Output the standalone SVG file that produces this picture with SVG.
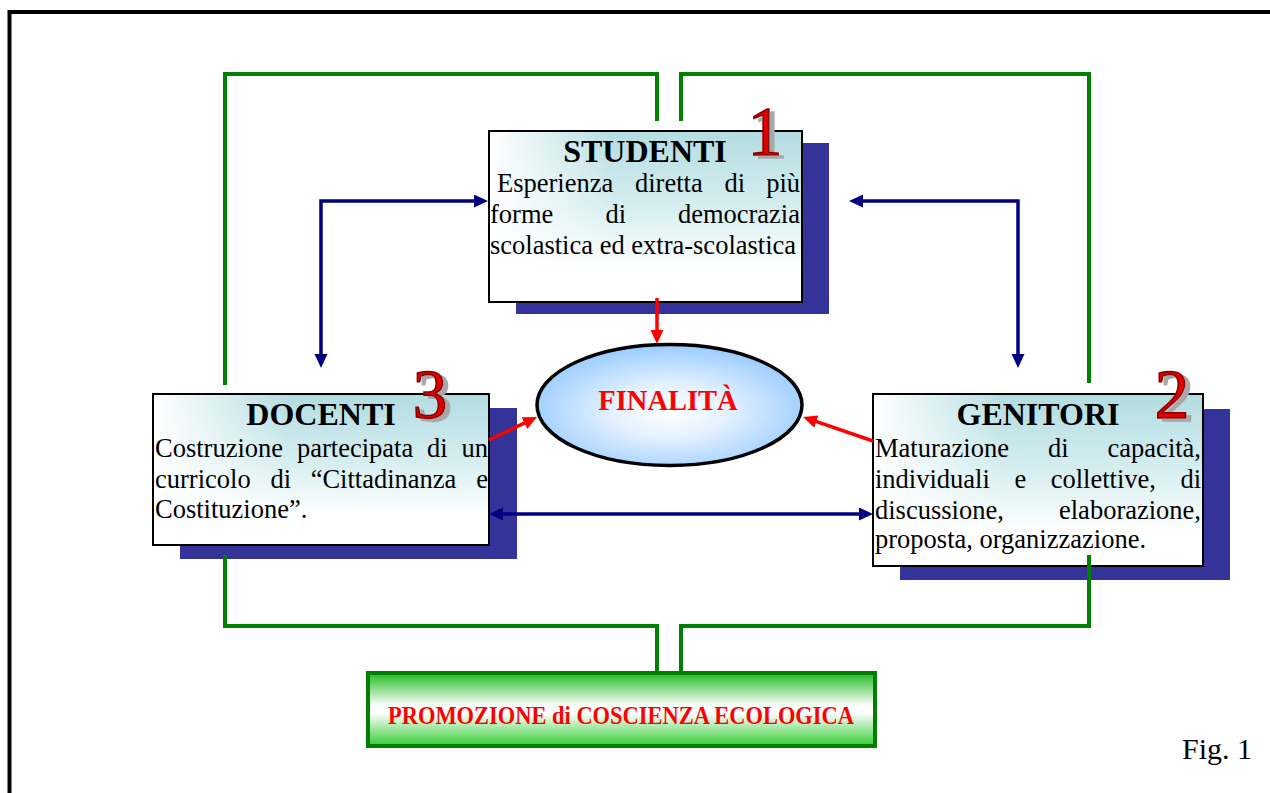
<svg xmlns="http://www.w3.org/2000/svg" width="1270" height="793" viewBox="0 0 1270 793">
<style>
.frame{fill:none;stroke:#000;stroke-width:4}
.shadow{fill:#333399}
.box{stroke:#000;stroke-width:2}
.title{font-family:"Liberation Serif","Times New Roman",serif;font-weight:bold;font-size:32px;fill:#000;text-anchor:middle}
.body{font-family:"Liberation Serif","Times New Roman",serif;font-size:26.5px;fill:#000}
.end{text-anchor:end}
.num{font-family:"Liberation Serif","Times New Roman",serif;font-weight:normal;font-size:69px;text-anchor:middle;fill:#e00000;stroke:#8a0000;stroke-width:1.6;filter:url(#ds)}
.red{font-family:"Liberation Serif","Times New Roman",serif;font-weight:bold;fill:#ff0000;text-anchor:middle}
.green{fill:none;stroke:#008000;stroke-width:4}
.blue{fill:none;stroke:#000080;stroke-width:3.5;marker-start:url(#ab);marker-end:url(#ab)}
.redl{fill:none;stroke:#ff0000;stroke-width:3.5;marker-end:url(#ar)}
</style>
<defs>
<filter id="ds" x="-30%" y="-30%" width="160%" height="160%">
<feOffset in="SourceAlpha" dx="5" dy="3" result="o"/>
<feFlood flood-color="#a8a8a8"/>
<feComposite in2="o" operator="in"/>
<feMerge><feMergeNode/><feMergeNode in="SourceGraphic"/></feMerge>
</filter>
<marker id="ab" markerUnits="userSpaceOnUse" markerWidth="16" markerHeight="14" refX="2" refY="6.5" orient="auto-start-reverse"><path d="M0,0 L14,6.5 L0,13 z" fill="#000080"/></marker>
<marker id="ar" markerUnits="userSpaceOnUse" markerWidth="16" markerHeight="14" refX="2" refY="6.5" orient="auto"><path d="M0,0 L14,6.5 L0,13 z" fill="#ff0000"/></marker>
<linearGradient id="gv" x1="0" y1="0" x2="0" y2="1"><stop offset="0" stop-color="#b3dce1"/><stop offset="0.45" stop-color="#d6eef0"/><stop offset="0.8" stop-color="#ffffff"/></linearGradient>
<linearGradient id="gh" x1="0" y1="0" x2="1" y2="0"><stop offset="0" stop-color="#fff" stop-opacity="1"/><stop offset="0.4" stop-color="#fff" stop-opacity="0"/></linearGradient>
<radialGradient id="ge" cx="0.5" cy="0.55" r="0.55"><stop offset="0" stop-color="#ffffff"/><stop offset="0.4" stop-color="#e4f1ff"/><stop offset="1" stop-color="#99ccff"/></radialGradient>
<linearGradient id="gg" x1="0" y1="0" x2="0" y2="1"><stop offset="0" stop-color="#22bb22"/><stop offset="0.45" stop-color="#ffffff"/><stop offset="0.55" stop-color="#ffffff"/><stop offset="1" stop-color="#33cc33"/></linearGradient>
</defs>
<rect width="1270" height="793" fill="#fff"/>
<path class="frame" d="M9.5,793 V12 H1270"/>

<g id="studenti">
<rect class="shadow" x="516" y="143" width="313" height="171"/>
<rect class="box" x="489" y="131" width="313" height="171" fill="url(#gv)"/>
<rect x="490" y="132" width="311" height="169" fill="url(#gh)"/>
<text class="title" x="645" y="162">STUDENTI</text>
<text class="num" x="765" y="155">1</text>
<text class="body" x="497" y="192">Esperienza</text>
<text class="body" x="635" y="192">diretta</text>
<text class="body" x="724.5" y="192">di</text>
<text class="body end" x="800" y="192">più</text>
<text class="body" x="490" y="223">forme</text>
<text class="body" x="605.5" y="223">di</text>
<text class="body end" x="800" y="223">democrazia</text>
<text class="body" x="490" y="254">scolastica ed extra-scolastica</text>
</g>

<g id="docenti">
<rect class="shadow" x="180" y="408" width="337" height="151"/>
<rect class="box" x="153" y="394" width="336" height="151" fill="url(#gv)"/>
<rect x="154" y="395" width="334" height="149" fill="url(#gh)"/>
<text class="title" x="321" y="425">DOCENTI</text>
<text class="num" x="430" y="418">3</text>
<text class="body" x="155" y="457">Costruzione</text>
<text class="body" x="297" y="457">partecipata</text>
<text class="body" x="427" y="457">di</text>
<text class="body end" x="488" y="457">un</text>
<text class="body" x="155" y="488">curricolo</text>
<text class="body" x="270.5" y="488">di</text>
<text class="body" x="310.7" y="488">“Cittadinanza</text>
<text class="body end" x="488" y="488">e</text>
<text class="body" x="155" y="518">Costituzione”.</text>
</g>

<g id="genitori">
<rect class="shadow" x="900" y="409" width="330" height="171"/>
<rect class="box" x="873" y="394" width="330" height="172" fill="url(#gv)"/>
<rect x="874" y="395" width="328" height="170" fill="url(#gh)"/>
<text class="title" x="1038" y="425">GENITORI</text>
<text class="num" x="1172" y="418">2</text>
<text class="body" x="875" y="457">Maturazione</text>
<text class="body" x="1048" y="457">di</text>
<text class="body end" x="1201" y="457">capacità,</text>
<text class="body" x="875" y="488">individuali</text>
<text class="body" x="1014.4" y="488">e</text>
<text class="body" x="1050.7" y="488">collettive,</text>
<text class="body end" x="1201" y="488">di</text>
<text class="body" x="875" y="519">discussione,</text>
<text class="body end" x="1201" y="519">elaborazione,</text>
<text class="body" x="875" y="548">proposta, organizzazione.</text>
</g>

<g id="finalita">
<ellipse cx="669.5" cy="405" rx="132.5" ry="60.5" fill="url(#ge)" stroke="#000" stroke-width="3.5"/>
<text class="red" x="668" y="410" font-size="28.5">FINALITÀ</text>
</g>

<g id="promozione">
<rect x="368" y="673" width="507" height="73" fill="url(#gg)" stroke="#008000" stroke-width="4"/>
<text class="red" x="621" y="724" font-size="26" textLength="466" lengthAdjust="spacingAndGlyphs">PROMOZIONE di COSCIENZA ECOLOGICA</text>
</g>

<g id="fig">
<text x="1182" y="759" font-family="Liberation Serif, Times New Roman, serif" font-size="30" fill="#000">Fig. 1</text>
</g>

<g id="connectors">
<path class="green" d="M225,385 V74 H657 V121"/>
<path class="green" d="M681,121 V74 H1089 V383"/>
<path class="green" d="M225,555 V626 H657 V673"/>
<path class="green" d="M1089,555 V626 H681 V673"/>
<path class="blue" d="M321,356 V201 H476"/>
<path class="blue" d="M1018,356 V201 H861"/>
<path class="blue" d="M501,514 H861"/>
<path class="redl" d="M657,298 V332"/>
<path class="redl" d="M489,440 L526.2,422.2"/>
<path class="redl" d="M873,441 L814.4,420.9"/>
</g>
</svg>
